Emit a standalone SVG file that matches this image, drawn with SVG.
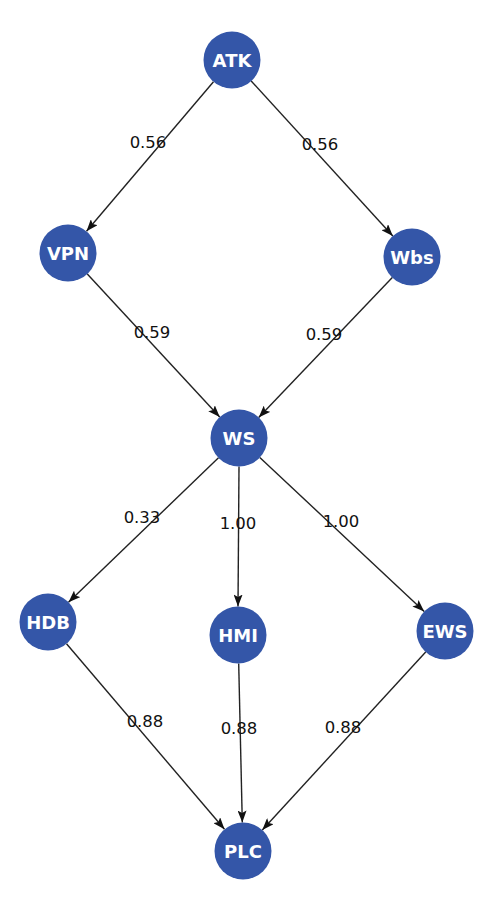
<svg xmlns="http://www.w3.org/2000/svg" width="500" height="899" viewBox="0 0 500 899">
<style>
.n{fill:#3456a8}
.nt{fill:#fff;font-family:"DejaVu Sans",Verdana,sans-serif;font-weight:bold;font-size:18px;text-anchor:middle;dominant-baseline:central}
.e{stroke:#222;stroke-width:1.4;fill:none;marker-end:url(#arr)}
.l{fill:#111;font-family:"DejaVu Sans",Verdana,sans-serif;font-size:16.5px;text-anchor:middle}
</style>
<defs>
<marker id="arr" markerUnits="userSpaceOnUse" markerWidth="13" markerHeight="9" refX="12" refY="4.5" orient="auto">
<path d="M0,0 L12,4.5 L0,9 L2.5,4.5 z" fill="#111"/>
</marker>
</defs>
<rect width="500" height="899" fill="#fff"/>
<g id="edges">
<line class="e" x1="213.5" y1="81.7" x2="86.5" y2="231.3"/>
<line class="e" x1="251.2" y1="81" x2="392.8" y2="236"/>
<line class="e" x1="87.3" y1="273.9" x2="219.7" y2="417.1"/>
<line class="e" x1="392.3" y1="277.6" x2="258.7" y2="417.4"/>
<line class="e" x1="218.5" y1="457.8" x2="68.5" y2="602.2"/>
<line class="e" x1="239" y1="466.5" x2="238" y2="606.5"/>
<line class="e" x1="259.8" y1="457.5" x2="424.2" y2="611.5"/>
<line class="e" x1="66.5" y1="643.7" x2="224.5" y2="829.3"/>
<line class="e" x1="238.7" y1="663.5" x2="242.3" y2="822.5"/>
<line class="e" x1="425.7" y1="652" x2="262.3" y2="830"/>
<text class="l" x="148" y="148">0.56</text>
<text class="l" x="320" y="150">0.56</text>
<text class="l" x="152" y="338">0.59</text>
<text class="l" x="324" y="340">0.59</text>
<text class="l" x="142" y="523">0.33</text>
<text class="l" x="238" y="529">1.00</text>
<text class="l" x="341" y="527">1.00</text>
<text class="l" x="145" y="727">0.88</text>
<text class="l" x="239" y="734">0.88</text>
<text class="l" x="343" y="733">0.88</text>
</g>
<g id="ATK"><circle class="n" cx="232" cy="60" r="28.5"/><text class="nt" x="232" y="60">ATK</text></g>
<g id="VPN"><circle class="n" cx="68" cy="253" r="28.5"/><text class="nt" x="68" y="253">VPN</text></g>
<g id="Wbs"><circle class="n" cx="412" cy="257" r="28.5"/><text class="nt" x="412" y="257">Wbs</text></g>
<g id="WS"><circle class="n" cx="239" cy="438" r="28.5"/><text class="nt" x="239" y="438">WS</text></g>
<g id="HDB"><circle class="n" cx="48" cy="622" r="28.5"/><text class="nt" x="48" y="622">HDB</text></g>
<g id="HMI"><circle class="n" cx="238" cy="635" r="28.5"/><text class="nt" x="238" y="635">HMI</text></g>
<g id="EWS"><circle class="n" cx="445" cy="631" r="28.5"/><text class="nt" x="445" y="631">EWS</text></g>
<g id="PLC"><circle class="n" cx="243" cy="851" r="28.5"/><text class="nt" x="243" y="851">PLC</text></g>
</svg>
